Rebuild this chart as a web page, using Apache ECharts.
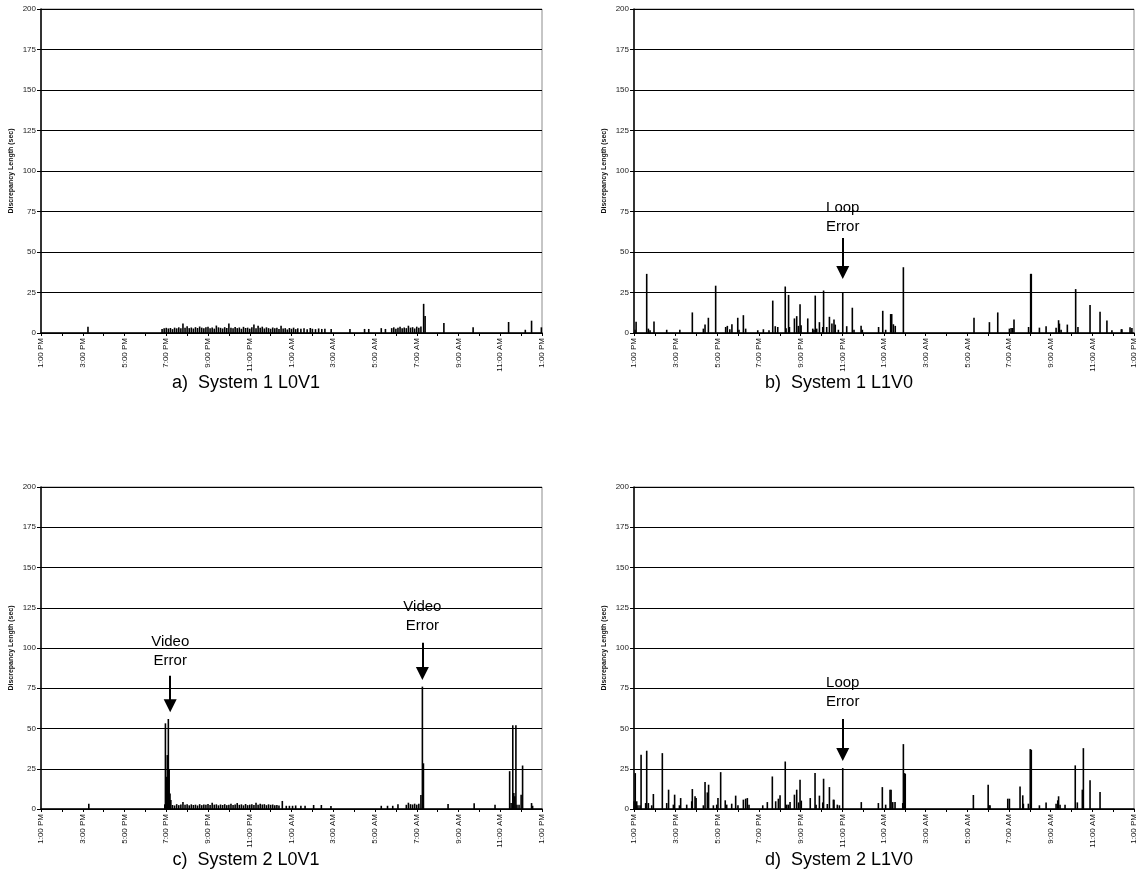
<!DOCTYPE html>
<html>
<head>
<meta charset="utf-8">
<script src="https://cdn.jsdelivr.net/npm/echarts@6/dist/echarts.min.js"></script>
<style>
html,body{margin:0;padding:0;background:#fff;}
#chart{width:1144px;height:888px;}
</style>
</head>
<body>
<div id="chart"></div>
<script>
// x = hours elapsed since 1:00 PM (0..24), y = discrepancy length (sec)
const hourLabels = ['1:00 PM','3:00 PM','5:00 PM','7:00 PM','9:00 PM','11:00 PM','1:00 AM','3:00 AM','5:00 AM','7:00 AM','9:00 AM','11:00 AM','1:00 PM'];
const yTicks = [0,25,50,75,100,125,150,175,200];
const captions = ['a)  System 1 L0V1','b)  System 1 L1V0','c)  System 2 L0V1','d)  System 2 L1V0'];
const yTitle = 'Discrepancy Length (sec)';

const sys1L0V1 = [
  [2.25,3.8],
  [5.8,2.5],[5.9,3],[6.0,3.2],[6.1,2.8],[6.2,3.1],[6.3,2.4],[6.4,3.3],[6.5,2.9],[6.6,3.5],[6.7,3.0],
  [6.8,5.8],[6.9,3.2],[7.0,4.2],[7.1,3.0],[7.2,3.4],[7.3,2.8],[7.4,3.6],[7.5,3.1],[7.6,4.0],[7.7,3.3],
  [7.8,2.9],[7.9,3.5],[8.0,3.8],[8.1,3.0],[8.2,3.4],[8.3,2.7],[8.4,4.6],[8.5,3.5],[8.6,3.2],[8.7,2.8],
  [8.8,3.6],[8.9,3.1],[9.0,5.8],[9.1,3.3],[9.2,2.9],[9.3,3.7],[9.4,3.0],[9.5,3.4],[9.6,2.6],[9.7,3.8],
  [9.8,3.1],[9.9,3.3],[10.0,2.7],[10.1,3.5],[10.2,5.2],[10.3,3.0],[10.4,4.4],[10.5,3.2],[10.6,3.9],[10.7,2.8],
  [10.8,3.5],[10.9,3.0],[11.0,2.6],[11.1,3.4],[11.2,2.9],[11.3,3.2],[11.4,2.5],[11.5,4.5],[11.6,2.8],[11.7,3.0],
  [11.8,2.2],[11.9,3.1],[12.0,2.6],[12.1,3.3],[12.2,2.4],[12.3,2.9],[12.45,2.7],[12.6,3.0],[12.75,2.3],[12.9,3.1],
  [13.0,2.6],[13.15,2.4],[13.3,2.8],[13.45,2.5],[13.6,2.7],
  [13.9,2.5],[14.8,2.5],[15.5,2.5],[15.7,2.5],[16.3,3.0],[16.5,2.5],
  [16.8,3.0],[16.9,3.5],[17.0,2.6],[17.1,3.2],[17.2,3.8],[17.3,2.9],[17.4,3.4],[17.5,3.0],[17.6,4.5],[17.7,3.3],
  [17.8,3.6],[17.9,2.8],[18.0,3.9],[18.1,3.2],[18.2,4.0],[18.33,18],[18.4,10.5],
  [19.3,6.2],[20.7,3.5],[22.4,6.8],[23.2,2.0],[23.5,7.6],[23.97,3.5]
];

const sys1L1V0 = [
  [0.05,2],[0.1,6.9],[0.61,36.5],[0.69,2.7],[0.77,1.7],[0.96,7.1],[1.57,2],[2.2,2],[2.8,12.7],
  [3.33,2.7],[3.41,5.2],[3.57,9.4],[3.92,29.2],
  [4.4,3.7],[4.48,4.4],[4.6,2.3],[4.7,5.4],[4.98,9.4],[5.04,2],[5.25,11],[5.36,2.7],
  [5.94,1.7],[6.21,2.3],[6.48,1.7],[6.66,20],[6.78,4.2],[6.9,3.7],
  [7.26,28.7],[7.3,3],[7.42,23.5],[7.46,3.7],[7.7,9],[7.81,10.4],[7.89,4.4],[7.97,17.7],[8.02,4.8],
  [8.34,9],[8.58,2.7],[8.64,2],[8.7,23.1],[8.77,2.7],[8.9,6.7],[9.06,3.7],[9.1,26.2],[9.25,3.7],
  [9.38,10],[9.5,5.8],[9.6,8.3],[9.66,5.2],[9.81,2],[10.02,25],[10.21,4.2],[10.48,15.6],[10.56,2],
  [10.9,4.4],[10.96,2],[11.74,3.7],[11.94,13.7],[12.08,2],[12.32,11.7],[12.37,11.7],[12.45,5.4],[12.54,4.4],
  [12.93,40.6],
  [16.32,9.4],[17.06,6.7],[17.46,12.7],
  [18.02,2.7],[18.1,3.1],[18.18,3.1],[18.24,8.3],
  [18.94,3.7],[19.04,36.5],[19.07,36.5],[19.46,3.3],[19.78,4.2],[20.26,3.3],[20.38,7.9],[20.42,5.8],[20.5,2],
  [20.8,5.2],[21.2,27.1],[21.31,3.7],[21.89,17.3],[22.37,13.1],[22.7,7.7],[22.94,1.7],
  [23.39,2.3],[23.42,2.3],[23.81,3.5],[23.9,3.1]
];

const sys2L0V1 = [
  [2.29,3.3],
  [5.93,2.9],[5.96,53.2],[6.0,20],[6.05,33.5],[6.1,55.9],[6.14,24.2],[6.18,9.7],[6.22,5.6],
  [6.3,2.5],[6.4,2.2],[6.5,3.0],[6.6,2.4],[6.7,2.8],[6.8,4.3],[6.9,2.6],[7.0,3.0],[7.1,2.3],[7.2,2.9],
  [7.3,2.5],[7.4,2.7],[7.5,2.2],[7.6,3.0],[7.7,2.4],[7.8,2.8],[7.9,2.6],[8.0,3.1],[8.1,2.5],[8.2,3.9],
  [8.3,2.7],[8.4,2.9],[8.5,2.3],[8.6,2.8],[8.7,2.5],[8.8,3.0],[8.9,2.4],[9.0,2.7],[9.1,3.2],[9.2,2.5],
  [9.3,2.8],[9.4,3.7],[9.5,2.6],[9.6,2.9],[9.7,2.3],[9.8,3.1],[9.9,2.4],[10.0,2.7],[10.1,2.9],[10.2,2.5],
  [10.3,3.9],[10.4,2.6],[10.5,3.2],[10.6,2.8],[10.7,3.0],[10.8,2.4],[10.9,2.9],[11.0,2.6],[11.1,2.8],[11.2,2.3],
  [11.3,2.5],[11.4,2.1],[11.56,5.0],
  [11.75,2.0],[11.9,2.0],[12.05,2.0],[12.2,2.2],[12.45,2.0],[12.65,2.0],[13.06,2.5],[13.43,2.5],[13.89,1.9],
  [16.3,2.0],[16.6,2.0],[16.85,2.0],[17.1,2.9],[17.5,2.6],[17.6,3.9],[17.7,3.0],[17.8,2.8],[17.9,3.3],[18.0,2.7],
  [18.1,3.2],[18.2,8.7],[18.27,76],[18.32,28.4],
  [19.5,3.1],[20.75,3.5],[21.75,2.7],[22.45,23.5],[22.52,3.7],[22.6,52],[22.65,10],[22.7,7.9],[22.75,52],
  [22.8,2.7],[22.9,2.7],[23.0,8.9],[23.07,27],[23.5,3.7],[23.55,2.0]
];

const sys2L1V0 = [
  [0.0,4.8],[0.06,22.3],[0.13,4.8],[0.19,2.3],[0.29,2.3],[0.34,33.7],[0.56,3.7],[0.61,36.2],[0.69,3.7],
  [0.85,2.3],[0.93,9.3],[1.36,34.7],[1.57,3.7],[1.66,12],[1.89,2.7],[1.95,8.9],[2.18,2.3],[2.24,6.8],
  [2.53,2.7],[2.77,4.8],[2.8,12.4],[2.93,7.9],[2.98,6.8],[3.33,2.3],[3.41,16.7],[3.52,10.3],[3.58,15.1],
  [3.81,2.3],[3.97,2.7],[4.03,6.8],[4.16,22.9],[4.38,5.4],[4.45,2.7],[4.69,3.3],[4.88,8.3],[4.99,2.3],
  [5.25,5.8],[5.36,6.4],[5.44,6.8],[5.52,2.7],[6.18,2.3],[6.4,4.3],[6.64,20.2],[6.8,4.8],[6.93,6.4],[7.01,8.5],
  [7.26,29.5],[7.33,2.7],[7.41,2.7],[7.49,4.3],[7.7,8.9],[7.81,12],[7.9,4.1],[7.97,18.2],[8.03,5.2],
  [8.46,6.8],[8.69,22.3],[8.74,2.7],[8.9,8.3],[9.06,4.1],[9.1,18.8],[9.28,3.1],[9.38,13.6],[9.57,5.8],[9.6,5.8],
  [9.76,2.7],[9.86,2.3],[10.02,25.4],[10.91,4.3],[11.73,3.7],[11.92,13.6],[12.08,2.7],[12.29,12],[12.34,12],
  [12.42,4.3],[12.53,4.3],[12.9,3.7],[12.93,40.3],[12.98,22.3],[13.02,21.9],
  [16.29,8.7],[17.04,2.3],[17.0,15.1],[17.09,2.3],[17.94,6.4],[18.02,6.4],[18.53,14],[18.66,8.5],[18.69,3.3],
  [18.93,3.3],[19.02,37.2],[19.07,36.8],[19.46,2.3],[19.78,4.1],[20.26,3.3],[20.34,5.4],[20.38,7.9],[20.45,2.7],
  [20.69,2.7],[21.18,27.1],[21.28,4.1],[21.52,12],[21.57,37.8],[21.89,17.8],[22.37,10.5]
];

// annotations: [hour, textValue, arrowStartValue, arrowTipValue, text]
const notesB = [[10.02, 71.4, 58.6, 37.3, 'Loop\nError']];
const notesC = [[6.19, 98.0, 82.8, 64.2, 'Video\nError'], [18.27, 119.4, 103.3, 84.1, 'Video\nError']];
const notesD = [[10.02, 72.5, 55.9, 33.8, 'Loop\nError']];

const FONT = '"Liberation Sans", Arial, sans-serif';
const grids = [
  {left: 41, top: 9, width: 501, height: 324},
  {left: 634, top: 9, width: 500, height: 324},
  {left: 41, top: 487, width: 501, height: 322},
  {left: 634, top: 487, width: 500, height: 322}
];
const panelData = [sys1L0V1, sys1L1V0, sys2L0V1, sys2L1V0];
const panelNotes = [[], notesB, notesC, notesD];

const option = {
  animation: false,
  backgroundColor: '#fff',
  grid: grids.map(g => Object.assign({show: true, borderColor: '#8c8c8c', borderWidth: 1, backgroundColor: 'transparent'}, g)),
  xAxis: grids.map((g, i) => ({
    type: 'value', gridIndex: i, min: 0, max: 24, interval: 1,
    axisLine: {show: true, onZero: false, lineStyle: {color: '#000', width: 1.5}},
    axisTick: {show: true, inside: false, length: 3, lineStyle: {color: '#000'}},
    splitLine: {show: false},
    axisLabel: {
      show: true, rotate: 90, fontSize: 8, color: '#111', fontFamily: FONT, margin: 5,
      showMinLabel: true, showMaxLabel: true, hideOverlap: false,
      formatter: v => (Math.round(v) % 2 === 0 ? hourLabels[Math.round(v) / 2] : '')
    }
  })),
  yAxis: grids.map((g, i) => ({
    type: 'value', gridIndex: i, min: yTicks[0], max: yTicks[yTicks.length - 1], interval: yTicks[1] - yTicks[0],
    name: yTitle, nameLocation: 'middle', nameGap: 26, nameRotate: 90,
    nameTextStyle: {fontSize: 7, fontWeight: 'bold', color: '#111', fontFamily: FONT},
    axisLine: {show: true, lineStyle: {color: '#000', width: 1.5}},
    axisTick: {show: true, inside: false, length: 4, lineStyle: {color: '#000'}},
    splitLine: {show: true, lineStyle: {color: '#000', width: 1}},
    axisLabel: {fontSize: 8, color: '#222', fontFamily: FONT, margin: 5}
  })),
  series: panelData.map((d, i) => {
    const notes = panelNotes[i];
    const s = {
      type: 'bar', xAxisIndex: i, yAxisIndex: i, data: d, barWidth: 1.6, barGap: '-100%',
      itemStyle: {color: '#000'}, silent: true
    };
    if (notes.length) {
      s.markLine = {
        silent: true, symbol: ['none', 'triangle'], symbolSize: [13, 13],
        lineStyle: {color: '#000', width: 2, type: 'solid'}, label: {show: false},
        data: notes.map(n => [{coord: [n[0], n[2]]}, {coord: [n[0], n[3]]}])
      };
      s.markPoint = {
        silent: true, symbol: 'circle', symbolSize: 0,
        label: {show: true, position: 'inside', fontSize: 15, lineHeight: 19, color: '#000', fontFamily: FONT, align: 'center'},
        data: notes.map(n => ({coord: [n[0], n[1]], value: n[4], label: {formatter: n[4]}}))
      };
    }
    return s;
  }),
  graphic: captions.map((t, i) => ({
    type: 'text',
    x: [246, 839, 246, 839][i],
    y: [383, 383, 860, 860][i],
    style: {text: t, fontSize: 18, fontFamily: FONT, fill: '#000', textAlign: 'center', textVerticalAlign: 'middle'}
  }))
};

const chart = echarts.init(document.getElementById('chart'), null, {renderer: 'canvas'});
chart.setOption(option);
</script>
</body>
</html>
